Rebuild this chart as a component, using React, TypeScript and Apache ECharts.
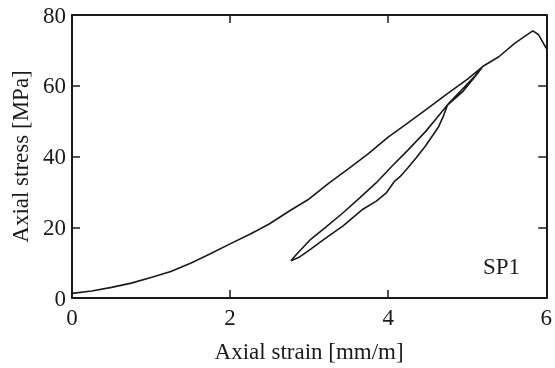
import React, { useEffect, useRef } from "react";
import * as echarts from "echarts";

// Loading branch (strain mm/m, stress MPa)
const loadStrain = [0, 0.25, 0.5, 0.75, 1, 1.25, 1.5, 1.75, 2, 2.25, 2.5, 2.75, 3, 3.25, 3.5, 3.75, 4, 4.25, 4.5, 4.75, 5, 5.2];
const loadStress = [1.3, 2, 3, 4.2, 5.8, 7.5, 9.8, 12.5, 15.3, 18, 21, 24.6, 28, 32.5, 36.6, 40.8, 45.5, 49.5, 53.6, 57.8, 61.8, 65.5];
// Unloading branch
const unloadStrain = [5.2, 5.1, 4.95, 4.85, 4.75, 4.7, 4.64, 4.55, 4.47, 4.35, 4.25, 4.15, 4.08, 3.98, 3.85, 3.68, 3.43, 3.2, 3.02, 2.88, 2.77];
const unloadStress = [65.5, 62.6, 58.5, 56.5, 54.5, 51.5, 48.5, 45.5, 42.9, 39.5, 36.8, 34.3, 33, 29.8, 27.4, 25.1, 20.4, 16.8, 13.8, 11.6, 10.5];
// Reloading branch
const reloadStrain = [2.77, 2.85, 3.02, 3.2, 3.43, 3.64, 3.85, 4.05, 4.25, 4.475, 4.62, 4.77, 4.95, 5.1, 5.2];
const reloadStress = [10.5, 12.6, 16.6, 19.8, 24.1, 28.3, 32.6, 37.3, 41.8, 47.1, 51, 55.1, 59.3, 62.8, 65.5];
// Post-reload to failure
const postStrain = [5.2, 5.4, 5.6, 5.75, 5.83, 5.9, 6.0];
const postStress = [65.5, 68.2, 72, 74.3, 75.5, 74.5, 70.6];

const xTicks = [0, 2, 4, 6];
const yTicks = [0, 20, 40, 60, 80];

const FONT = "Liberation Serif, Times New Roman, serif";
const INK = "#1a1a1a";

function pairs(xs: number[], ys: number[]) {
  return xs.map((x, i) => [x, ys[i]]);
}

function axisLineCfg() {
  return { show: true, onZero: false, lineStyle: { color: INK, width: 2 } };
}
function axisTickCfg() {
  return { show: true, inside: true, length: 8, lineStyle: { color: INK, width: 1.5 } };
}

export default function App() {
  const ref = useRef<HTMLDivElement>(null);
  useEffect(() => {
    if (!ref.current) return;
    const chart = echarts.init(ref.current, null, { renderer: "svg" });
    const data = [
      ...pairs(loadStrain, loadStress),
      ...pairs(unloadStrain, unloadStress).slice(1),
      ...pairs(reloadStrain, reloadStress).slice(1),
      ...pairs(postStrain, postStress).slice(1),
    ];
    const xMin = xTicks[0];
    const xMax = xTicks[xTicks.length - 1];
    const yMin = yTicks[0];
    const yMax = yTicks[yTicks.length - 1];
    chart.setOption({
      animation: false,
      grid: { left: 72, right: 5, top: 15, bottom: 69 },
      xAxis: [
        {
          type: "value",
          min: xMin,
          max: xMax,
          interval: 2,
          position: "bottom",
          axisLine: axisLineCfg(),
          axisTick: axisTickCfg(),
          splitLine: { show: false },
          axisLabel: { show: true, margin: 8, fontSize: 23, fontFamily: FONT, color: INK, showMaxLabel: true, showMinLabel: true },
          name: "Axial strain [mm/m]",
          nameLocation: "middle",
          nameGap: 42,
          nameTextStyle: { fontSize: 23, fontFamily: FONT, color: INK },
        },
        {
          type: "value",
          min: xMin,
          max: xMax,
          interval: 2,
          position: "top",
          axisLine: axisLineCfg(),
          axisTick: axisTickCfg(),
          splitLine: { show: false },
          axisLabel: { show: false },
        },
      ],
      yAxis: [
        {
          type: "value",
          min: yMin,
          max: yMax,
          interval: 20,
          position: "left",
          axisLine: axisLineCfg(),
          axisTick: axisTickCfg(),
          splitLine: { show: false },
          axisLabel: { show: true, margin: 6, fontSize: 23, fontFamily: FONT, color: INK },
          name: "Axial stress [MPa]",
          nameLocation: "middle",
          nameGap: 40,
          nameRotate: 90,
          nameTextStyle: { fontSize: 23, fontFamily: FONT, color: INK },
        },
        {
          type: "value",
          min: yMin,
          max: yMax,
          interval: 20,
          position: "right",
          axisLine: axisLineCfg(),
          axisTick: axisTickCfg(),
          splitLine: { show: false },
          axisLabel: { show: false },
        },
      ],
      graphic: [
        {
          type: "text",
          left: 483,
          top: 255,
          style: { text: "SP1", fontSize: 23, fontFamily: FONT, fill: INK },
        },
      ],
      series: [
        {
          type: "line",
          data,
          showSymbol: false,
          smooth: false,
          lineStyle: { color: INK, width: 1.6 },
          xAxisIndex: 0,
          yAxisIndex: 0,
        },
      ],
    });
    return () => chart.dispose();
  }, []);
  return <div ref={ref} style={{ position: "fixed", left: 0, top: 0, width: 555, height: 368 }} />;
}
